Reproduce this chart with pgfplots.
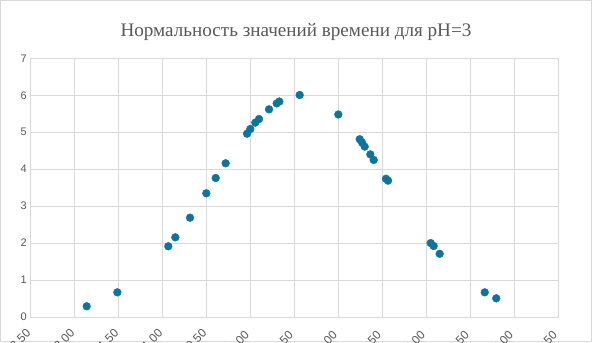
\documentclass[border=0pt]{standalone}
\usepackage{fontspec}
\setmainfont{Liberation Sans}
\newfontfamily\titlefont{Liberation Serif}
\usepackage{pgfplots}
\pgfplotsset{compat=1.18}
\definecolor{pt}{RGB}{14,116,155}
\definecolor{grd}{RGB}{217,217,217}
\definecolor{axl}{RGB}{191,191,191}
\definecolor{txt}{RGB}{89,89,89}
\begin{document}
\begin{tikzpicture}[x=1bp,y=1bp]
\path[use as bounding box] (0,0) rectangle (592,342);
\clip (0,0) rectangle (592,342);
\fill[white] (0,0) rectangle (592,342);
\draw[grd, line width=0.75bp] (0.4,0.4) rectangle (591.6,341.6);
\node[anchor=base, text=txt, font=\titlefont\fontsize{19.2}{21}\selectfont] at (296,306) {Нормальность значений времени для pH=3};
\begin{axis}[
  at={(30.3bp,25bp)}, anchor=south west, scale only axis,
  width=528bp, height=258.7bp,
  xmin=-2.5, xmax=3.5, ymin=0, ymax=7,
  xtick={-2.5,-2,-1.5,-1,-0.5,0,0.5,1,1.5,2,2.5,3,3.5},
  ytick={0,1,2,3,4,5,6,7},
  grid=major,
  major grid style={grd, line width=0.75bp},
  axis line style={grd, line width=0.75bp},
  x axis line style={axl},
  tick style={draw=none},
  /pgf/number format/assume math mode=true,
  tick label style={text=txt, font=\fontsize{11}{13}\selectfont},
  xticklabel style={/pgf/number format/.cd, fixed, fixed zerofill, precision=2, use comma, /tikz/.cd, font=\fontsize{12}{14}\selectfont, xshift=-11bp, yshift=-24.5bp, rotate=45, anchor=center},
  yticklabel style={/pgf/number format/.cd, fixed, precision=0},
]
\addplot[only marks, mark=*, mark size=3.9bp, mark options={fill=pt, draw=pt}] coordinates {
(-1.859,0.29) (-1.511,0.668) (-0.932,1.913) (-0.852,2.156) (-0.685,2.687)
(-0.500,3.347) (-0.393,3.761) (-0.280,4.159) (-0.037,4.96) (0.000,5.087)
(0.057,5.26) (0.099,5.357) (0.213,5.62) (0.300,5.78) (0.330,5.83)
(0.561,6.007) (1.000,5.48) (1.243,4.81) (1.270,4.72) (1.300,4.61)
(1.364,4.40) (1.402,4.25) (1.542,3.74) (1.565,3.69) (2.050,2.00)
(2.084,1.92) (2.152,1.71) (2.664,0.668) (2.795,0.505)
};
\end{axis}
\end{tikzpicture}
\end{document}
